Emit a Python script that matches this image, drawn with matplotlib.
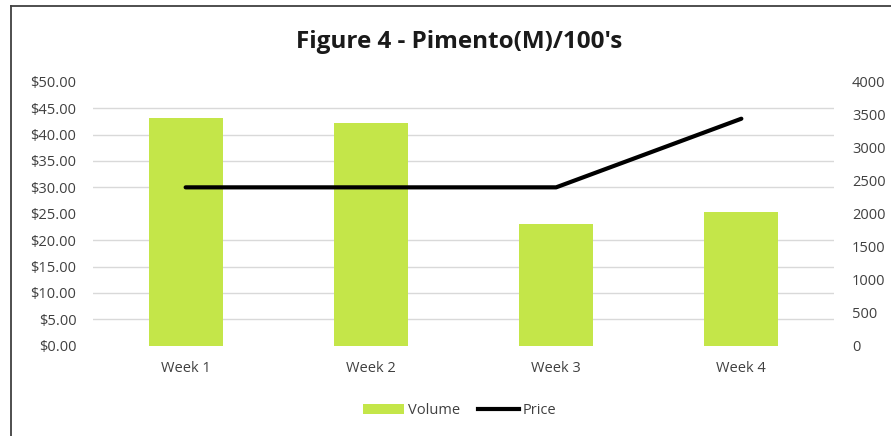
import matplotlib
matplotlib.use("Agg")
import matplotlib.pyplot as plt
from matplotlib.lines import Line2D
from matplotlib.patches import Patch
from matplotlib.ticker import MultipleLocator, FuncFormatter

weeks = ["Week 1", "Week 2", "Week 3", "Week 4"]
volume = [3450, 3375, 1850, 2020]
price = [30.0, 30.0, 30.0, 43.0]

BAR = "#C4E649"
TXT = "#404040"
GRID = "#D9D9D9"
FONT = "Open Sans"

plt.rcParams["font.family"] = [FONT, "DejaVu Sans"]

fig = plt.figure(figsize=(8.91, 4.36), dpi=100)
ax_p = fig.add_axes([0.1044, 0.207, 0.8316, 0.6055])
ax_v = ax_p.twinx()

# bars on the volume (right) axis, line on the price (left) axis drawn on top
x = range(len(weeks))
ax_v.bar(x, volume, width=0.4, color=BAR, zorder=2)
ax_v.set_ylim(0, 4000)
ax_v.yaxis.set_major_locator(MultipleLocator(500))
ax_v.yaxis.set_minor_locator(MultipleLocator(400))
ax_v.grid(which="minor", axis="y", color=GRID, linewidth=1.0, zorder=0)
ax_v.set_axisbelow(True)

ax_p.plot(x, price, color="black", linewidth=3.0, solid_capstyle="round")
ax_p.set_ylim(0, 50)
ax_p.set_xlim(-0.5, len(weeks) - 0.5)
ax_p.yaxis.set_major_locator(MultipleLocator(5))
ax_p.yaxis.set_major_formatter(FuncFormatter(lambda v, _: f"${v:.2f}"))
ax_p.set_xticks(list(x))
ax_p.set_xticklabels(weeks)
ax_p.set_zorder(ax_v.get_zorder() + 1)
ax_p.patch.set_visible(False)

for a in (ax_p, ax_v):
    for s in a.spines.values():
        s.set_visible(False)
    a.tick_params(which="both", length=0, labelsize=10.5, labelcolor=TXT)
ax_p.tick_params(axis="y", pad=12)
ax_v.tick_params(axis="y", pad=13)
ax_p.tick_params(axis="x", pad=11)

fig.text(0.515, 0.89, "Figure 4 - Pimento(M)/100's", ha="center", va="baseline",
         fontsize=17.5, fontweight="bold", color="#1a1a1a")

handles = [Patch(facecolor=BAR, edgecolor="none"),
           Line2D([], [], color="black", linewidth=3.0)]
fig.legend(handles, ["Volume", "Price"], loc="center", bbox_to_anchor=(0.516, 0.058),
           ncol=2, frameon=False, fontsize=10.5, handlelength=2.8, handletextpad=0.3,
           columnspacing=1.2, labelcolor=TXT)

# chart frame (partially visible in the source screenshot)
fig.add_artist(Line2D([0.0118, 0.0118], [0, 0.987], color="#404040", linewidth=1.3))
fig.add_artist(Line2D([0.0118, 1], [0.987, 0.987], color="#404040", linewidth=1.3))

fig.savefig("out.png", dpi=100)
